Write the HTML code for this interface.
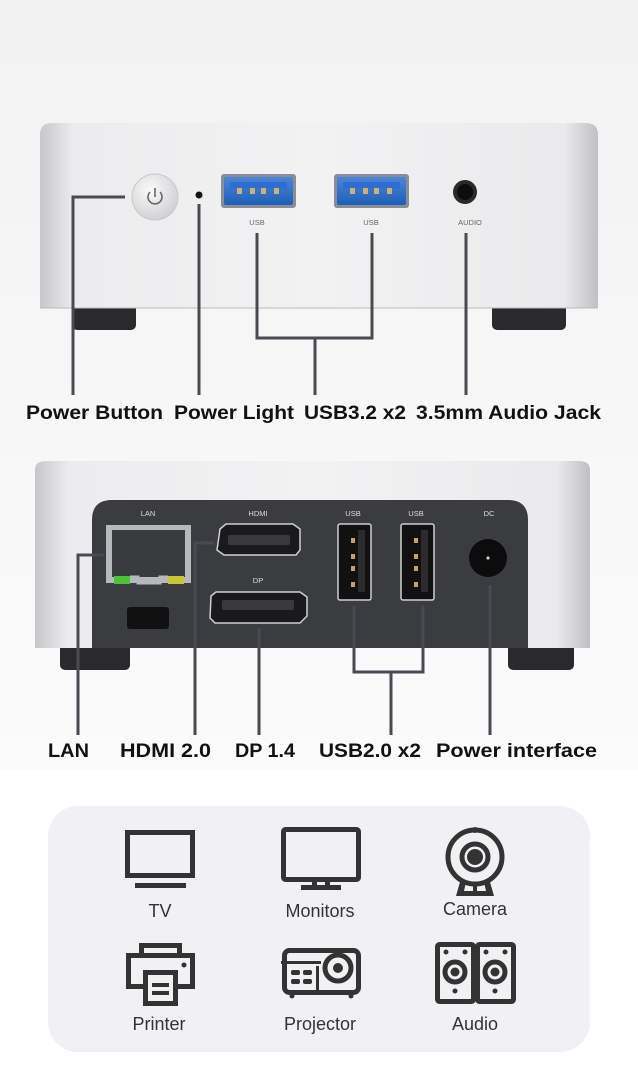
<!DOCTYPE html>
<html><head><meta charset="utf-8"><style>
html,body{margin:0;padding:0;background:#fff}
svg{display:block}
text{font-family:"Liberation Sans",sans-serif}
</style></head><body>
<svg width="638" height="1066" viewBox="0 0 638 1066" xmlns="http://www.w3.org/2000/svg">
<defs>
<linearGradient id="bg" x1="0" y1="0" x2="0" y2="1"><stop offset="0" stop-color="#f2f2f2"/><stop offset="1" stop-color="#fbfbfb"/></linearGradient>
<linearGradient id="alu" x1="0" y1="0" x2="1" y2="0">
<stop offset="0" stop-color="#c6c7ca"/><stop offset="0.06" stop-color="#ececee"/><stop offset="0.5" stop-color="#f2f2f3"/><stop offset="0.94" stop-color="#eaeaec"/><stop offset="1" stop-color="#bfc0c3"/></linearGradient>
<linearGradient id="usb3" x1="0" y1="0" x2="0" y2="1"><stop offset="0" stop-color="#4a86d8"/><stop offset="1" stop-color="#1f5fb8"/></linearGradient>
<radialGradient id="btn" cx="0.4" cy="0.35" r="0.7"><stop offset="0" stop-color="#fafafa"/><stop offset="1" stop-color="#cfcfd2"/></radialGradient>
</defs>
<rect width="638" height="770" fill="url(#bg)"/>
<rect y="770" width="638" height="296" fill="#fff"/>

<!-- TOP DEVICE -->
<rect x="72" y="300" width="64" height="30" rx="5" fill="#2a2a2c"/>
<rect x="492" y="300" width="74" height="30" rx="5" fill="#2a2a2c"/>
<path d="M40 135 Q40 123 52 123 L586 123 Q598 123 598 135 L598 308 L40 308 Z" fill="url(#alu)"/>
<line x1="40" y1="308" x2="598" y2="308" stroke="#b9babd" stroke-width="1"/>
<circle cx="155" cy="197" r="23" fill="url(#btn)" stroke="#c8c8cc"/>
<path d="M150 192 A7 7 0 1 0 160 192" fill="none" stroke="#666" stroke-width="1.6"/>
<line x1="155" y1="188" x2="155" y2="197" stroke="#666" stroke-width="1.6"/>
<circle cx="199" cy="195" r="3.5" fill="#111"/>
<rect x="221" y="174" width="75" height="34" rx="3" fill="#8a8d94"/>
<rect x="224" y="177" width="69" height="28" rx="2" fill="url(#usb3)"/>
<rect x="230" y="182" width="57" height="7" fill="#2f6ed0"/>
<g fill="#d2b071"><rect x="237" y="188" width="5" height="6"/><rect x="250" y="188" width="5" height="6"/><rect x="261" y="188" width="5" height="6"/><rect x="274" y="188" width="5" height="6"/></g>
<rect x="334" y="174" width="75" height="34" rx="3" fill="#8a8d94"/>
<rect x="337" y="177" width="69" height="28" rx="2" fill="url(#usb3)"/>
<rect x="343" y="182" width="57" height="7" fill="#2f6ed0"/>
<g fill="#d2b071"><rect x="350" y="188" width="5" height="6"/><rect x="363" y="188" width="5" height="6"/><rect x="374" y="188" width="5" height="6"/><rect x="387" y="188" width="5" height="6"/></g>
<circle cx="465" cy="192" r="12" fill="#2a2a2a"/><circle cx="465" cy="192" r="8" fill="#0d0d0d"/>
<g font-size="7.5" fill="#666" text-anchor="middle"><text x="257" y="225">USB</text><text x="371" y="225">USB</text><text x="470" y="225">AUDIO</text></g>
<g stroke="#4a4a52" stroke-width="3" fill="none">
<path d="M125 197 H73 V395"/>
<path d="M199 204 V395"/>
<path d="M257 233 V338 H372 V233"/>
<path d="M315 338 V395"/>
<path d="M466 233 V395"/>
</g>
<g font-size="19" fill="#111" font-weight="bold">
<text x="26" y="419" textLength="137" lengthAdjust="spacingAndGlyphs">Power Button</text>
<text x="174" y="419" textLength="120" lengthAdjust="spacingAndGlyphs">Power Light</text>
<text x="304" y="419" textLength="102" lengthAdjust="spacingAndGlyphs">USB3.2 x2</text>
<text x="416" y="419" textLength="185" lengthAdjust="spacingAndGlyphs">3.5mm Audio Jack</text>
</g>

<!-- BACK DEVICE -->
<rect x="60" y="640" width="70" height="30" rx="5" fill="#2a2a2c"/>
<rect x="508" y="640" width="66" height="30" rx="5" fill="#2a2a2c"/>
<path d="M35 470 Q35 461 46 461 L579 461 Q590 461 590 470 L590 648 L35 648 Z" fill="url(#alu)"/>
<path d="M92 520 Q92 500 112 500 L508 500 Q528 500 528 520 L528 648 L92 648 Z" fill="#3b3c40"/>
<g font-size="7.5" fill="#ddd" text-anchor="middle"><text x="148" y="516">LAN</text><text x="258" y="516">HDMI</text><text x="258" y="583">DP</text><text x="353" y="516">USB</text><text x="416" y="516">USB</text><text x="489" y="516">DC</text></g>
<rect x="106" y="525" width="85" height="58" fill="#b7b8bb"/>
<rect x="112" y="530" width="73" height="47" fill="#3a3b3e"/>
<rect x="114" y="576" width="16" height="8" fill="#4cc23a"/><rect x="168" y="576" width="16" height="8" fill="#c8c634"/>
<path d="M130 577 H138 V583 H160 V577 H168" fill="none" stroke="#b7b8bb" stroke-width="3"/>
<rect x="127" y="607" width="42" height="22" rx="3" fill="#111"/>
<path d="M220 529 L226 524 H293 L300 529 V550 L296 555 H224 L217 550 Z" fill="#1a1a1c" stroke="#d0d0d0" stroke-width="1.5"/>
<rect x="228" y="535" width="62" height="10" rx="2" fill="#3a3a3c"/>
<path d="M211 596 L216 592 H300 L307 597 V616 L300 623 H215 L210 618 Z" fill="#1a1a1c" stroke="#d0d0d0" stroke-width="1.5"/>
<rect x="222" y="600" width="72" height="10" rx="2" fill="#3a3a3c"/>
<rect x="338" y="524" width="33" height="76" rx="2" fill="#111" stroke="#cfcfcf" stroke-width="1.5"/>
<rect x="401" y="524" width="33" height="76" rx="2" fill="#111" stroke="#cfcfcf" stroke-width="1.5"/>
<rect x="358" y="530" width="7" height="62" fill="#2c2c2e"/><rect x="421" y="530" width="7" height="62" fill="#2c2c2e"/>
<g fill="#c8a060"><rect x="351" y="538" width="4" height="5"/><rect x="351" y="554" width="4" height="5"/><rect x="351" y="566" width="4" height="5"/><rect x="351" y="582" width="4" height="5"/><rect x="414" y="538" width="4" height="5"/><rect x="414" y="554" width="4" height="5"/><rect x="414" y="566" width="4" height="5"/><rect x="414" y="582" width="4" height="5"/></g>
<circle cx="488" cy="558" r="19" fill="#0c0c0c"/><circle cx="488" cy="558" r="1.6" fill="#ccc"/>
<g stroke="#4a4a52" stroke-width="3" fill="none">
<path d="M104 555 H78 V735"/>
<path d="M214 543 H195 V735"/>
<path d="M259 628 V735"/>
<path d="M354 606 V672 H423 V606"/>
<path d="M391 672 V735"/>
<path d="M490 585 V735"/>
</g>
<g font-size="19" fill="#111" font-weight="bold">
<text x="48" y="757" textLength="41" lengthAdjust="spacingAndGlyphs">LAN</text>
<text x="120" y="757" textLength="91" lengthAdjust="spacingAndGlyphs">HDMI 2.0</text>
<text x="235" y="757" textLength="60" lengthAdjust="spacingAndGlyphs">DP 1.4</text>
<text x="319" y="757" textLength="102" lengthAdjust="spacingAndGlyphs">USB2.0 x2</text>
<text x="436" y="757" textLength="161" lengthAdjust="spacingAndGlyphs">Power interface</text>
</g>

<!-- PANEL -->
<rect x="48" y="806" width="542" height="246" rx="30" fill="#f1f1f3"/>
<g fill="none" stroke="#333" stroke-width="5">
<rect x="127.5" y="832.5" width="65" height="43"/>
<rect x="283.5" y="829.5" width="75" height="50" rx="2"/>
<circle cx="475" cy="857" r="27"/>
<circle cx="475" cy="857" r="13"/>
<rect x="141.5" y="945.5" width="38" height="10"/>
<rect x="128.5" y="955.5" width="64" height="31"/>
<rect x="145.5" y="972.5" width="30" height="31" fill="#f1f1f3"/>
<rect x="284.5" y="950.5" width="74" height="42" rx="5"/>
<circle cx="338" cy="968" r="13"/>
<rect x="437.5" y="944.5" width="36" height="57" rx="2"/>
<rect x="477.5" y="944.5" width="36" height="57" rx="2"/>
<circle cx="455" cy="972" r="10"/>
<circle cx="495" cy="972" r="10"/>
</g>
<g fill="#333">
<rect x="135" y="883" width="51" height="5"/>
<rect x="312" y="879" width="5" height="10"/><rect x="325" y="879" width="5" height="10"/>
<rect x="301" y="885" width="40" height="5"/>
<circle cx="475" cy="857" r="8"/>
<circle cx="475" cy="830" r="3"/>
<path d="M460 882 L456 896 H494 L490 882 H484 L486 891 H464 L466 882 Z"/>
<rect x="473" y="883" width="4" height="10"/>
<circle cx="184" cy="965" r="2.5"/>
<rect x="152" y="983" width="17" height="4"/><rect x="152" y="991" width="17" height="4"/>
<rect x="291" y="970" width="9" height="5" rx="2"/><rect x="303" y="970" width="9" height="5" rx="2"/>
<rect x="291" y="979" width="9" height="5" rx="2"/><rect x="303" y="979" width="9" height="5" rx="2"/>
<rect x="316" y="966" width="3" height="26"/>
<rect x="281" y="961" width="40" height="3"/>
<circle cx="338" cy="968" r="5"/>
<circle cx="292" cy="996" r="2.5"/><circle cx="351" cy="996" r="2.5"/>
<circle cx="446" cy="952" r="2.5"/><circle cx="465" cy="952" r="2.5"/><circle cx="486" cy="952" r="2.5"/><circle cx="505" cy="952" r="2.5"/>
<circle cx="455" cy="972" r="4.5"/><circle cx="495" cy="972" r="4.5"/>
<circle cx="455" cy="991" r="2.5"/><circle cx="495" cy="991" r="2.5"/>
</g>
<g font-size="18" fill="#333" text-anchor="middle">
<text x="160" y="917">TV</text>
<text x="320" y="917">Monitors</text>
<text x="475" y="915">Camera</text>
<text x="159" y="1030">Printer</text>
<text x="320" y="1030">Projector</text>
<text x="475" y="1030">Audio</text>
</g>
</svg>
</body></html>
